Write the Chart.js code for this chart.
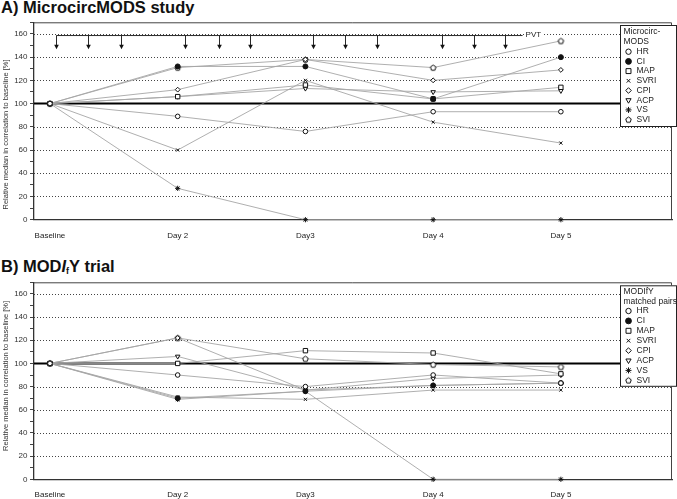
<!DOCTYPE html>
<html>
<head>
<meta charset="utf-8">
<script src="https://cdn.jsdelivr.net/npm/chart.js@4"></script>
<style>
  html, body { margin: 0; padding: 0; background: #fff; }
  body { width: 677px; height: 499px; position: relative; overflow: hidden; font-family: "Liberation Sans", Arial, sans-serif; }
  .title { position: absolute; left: 1px; font-weight: bold; font-size: 16.5px; line-height: 16.5px; color: #111; white-space: nowrap; }
  .title sub { font-size: 9px; vertical-align: -2px; line-height: 0; }
  canvas { position: absolute; left: 0; }
</style>
</head>
<body>
<div class="title" style="top:-1px">A) MicrocircMODS study</div>
<div class="title" style="top:258px">B) MOD<i>I</i><sub>f</sub>Y trial</div>
<canvas id="chartA" width="677" height="240" style="top:0"></canvas>
<canvas id="chartB" width="677" height="259" style="top:240px"></canvas>
<script>
const days = ['Baseline', 'Day 2', 'Day3', 'Day 4', 'Day 5'];
const seriesNames = ['HR', 'CI', 'MAP', 'SVRI', 'CPI', 'ACP', 'VS', 'SVI'];
const yTicks = [0, 20, 40, 60, 80, 100, 120, 140, 160];

// A) MicrocircMODS study
const microHR = [100, 89, 76, 93, 93];
const microCI = [100, 132, 132, 104, 140];
const microMAP = [100, 106, 116, 104, 114];
const microSVRI = [100, 60, 120, 84, 66];
const microCPI = [100, 112, 138, 120, 129];
const microACP = [100, 106, 113, 110, 111];
const microVS = [100, 27, 0, 0, 0];
const microSVI = [100, 131, 138, 131, 154];

// PVT doses (day position of each arrow) and level of the bracket line
const pvtDoses = [0.05, 0.3, 0.56, 1.06, 1.32, 1.57, 2.06, 2.31, 2.56, 3.07, 3.32, 3.56];
const pvtEnd = 3.70;
const pvtLevel = 158.6;
const pvtTip = 146.7;

// B) MODIfY trial, matched pairs
const modifyHR = [100, 90, 80, 90, 83];
const modifyCI = [100, 70, 76, 81, 83];
const modifyMAP = [100, 100, 111, 109, 91];
const modifySVRI = [100, 71, 69, 77, 77];
const modifyCPI = [100, 122, 77, 81, 83];
const modifyACP = [100, 106, 77, 87, 90];
const modifyVS = [100, 69, 76, 0, 0];
const modifySVI = [100, 122, 104, 99, 97];

const FONT = '"Liberation Sans", Arial, sans-serif';

// pentagon marker for SVI (chart.js has no pentagon)
function makePentagon() {
  const c = document.createElement('canvas');
  c.width = 9; c.height = 9;
  const g = c.getContext('2d');
  g.beginPath();
  for (let i = 0; i < 5; i++) {
    const a = -Math.PI / 2 + i * 2 * Math.PI / 5;
    const px = 4.5 + 2.9 * Math.cos(a), py = 4.8 + 2.9 * Math.sin(a);
    if (i === 0) g.moveTo(px, py); else g.lineTo(px, py);
  }
  g.closePath();
  g.fillStyle = '#fff';
  g.fill();
  g.lineWidth = 1;
  g.strokeStyle = '#111';
  g.stroke();
  return c;
}
const pentagon = makePentagon();

const markers = {
  HR:   { pointStyle: 'circle', radius: 2.3, fill: '#fff', rotation: 0 },
  CI:   { pointStyle: 'circle', radius: 2.5, fill: '#111', rotation: 0 },
  MAP:  { pointStyle: 'rect', radius: 3.1, fill: '#fff', rotation: 0 },
  SVRI: { pointStyle: 'crossRot', radius: 2.2, fill: '#fff', rotation: 0 },
  CPI:  { pointStyle: 'rectRot', radius: 2.4, fill: '#fff', rotation: 0 },
  ACP:  { pointStyle: 'triangle', radius: 2.6, fill: '#fff', rotation: 180 },
  VS:   { pointStyle: 'star', radius: 2.6, fill: '#fff', rotation: 0 },
  SVI:  { pointStyle: pentagon, radius: 3, fill: '#fff', rotation: 0 }
};

function toPoints(values) {
  return values.map((v, i) => ({ x: i, y: v }));
}

function buildDatasets(valueLists) {
  return seriesNames.map((name, k) => {
    const m = markers[name];
    return {
      label: name,
      data: toPoints(valueLists[k]),
      borderColor: '#a6a6a6',
      borderWidth: 0.9,
      pointStyle: m.pointStyle,
      pointRotation: m.rotation,
      pointRadius: m.radius,
      pointBorderWidth: 1,
      pointBorderColor: '#111',
      pointBackgroundColor: m.fill,
      clip: false
    };
  });
}

// grid, baseline line at 100, box, y title
const framePlugin = {
  id: 'frame',
  beforeDatasetsDraw(chart, args, opts) {
    const { ctx, chartArea: a, scales: { y } } = chart;
    ctx.save();
    ctx.strokeStyle = '#444';
    ctx.lineWidth = 1;
    ctx.setLineDash([1, 2]);
    yTicks.forEach(v => {
      if (v === 0 || v === 100) return;
      const py = Math.round(y.getPixelForValue(v)) + 0.5;
      ctx.beginPath();
      ctx.moveTo(a.left, py);
      ctx.lineTo(a.right, py);
      ctx.stroke();
    });
    ctx.setLineDash([]);
    const p100 = y.getPixelForValue(100);
    ctx.strokeStyle = '#000';
    ctx.lineWidth = 2;
    ctx.beginPath();
    ctx.moveTo(a.left, p100);
    ctx.lineTo(a.right, p100);
    ctx.stroke();
    // top and right of the box
    ctx.strokeStyle = '#444';
    ctx.lineWidth = 1;
    ctx.beginPath();
    ctx.moveTo(a.left, a.top + 0.5);
    ctx.lineTo(a.right - 0.5, a.top + 0.5);
    ctx.lineTo(a.right - 0.5, a.bottom);
    ctx.stroke();
    // y axis title
    ctx.fillStyle = '#333';
    ctx.font = '7.5px ' + FONT;
    ctx.textAlign = 'center';
    ctx.textBaseline = 'middle';
    ctx.translate(5.7, opts.titleY);
    ctx.rotate(-Math.PI / 2);
    ctx.fillText('Relative median in correlation to baseline [%]', 0, 0);
    ctx.restore();
  }
};

// PVT arrows (panel A only)
const pvtPlugin = {
  id: 'pvt',
  afterDatasetsDraw(chart, args, opts) {
    if (!opts.show) return;
    const { ctx, scales: { x, y } } = chart;
    const top = y.getPixelForValue(pvtLevel);
    const tip = y.getPixelForValue(pvtTip);
    ctx.save();
    ctx.strokeStyle = '#111';
    ctx.fillStyle = '#111';
    ctx.lineWidth = 0.9;
    ctx.beginPath();
    ctx.moveTo(x.getPixelForValue(pvtDoses[0]), top);
    ctx.lineTo(x.getPixelForValue(pvtEnd), top);
    ctx.stroke();
    pvtDoses.forEach(d => {
      const px = Math.round(x.getPixelForValue(d)) + 0.5;
      ctx.beginPath();
      ctx.moveTo(px, top);
      ctx.lineTo(px, tip - 3);
      ctx.stroke();
      ctx.beginPath();
      ctx.moveTo(px - 2.3, tip - 4.5);
      ctx.lineTo(px + 2.3, tip - 4.5);
      ctx.lineTo(px, tip);
      ctx.closePath();
      ctx.fill();
    });
    const lx = x.getPixelForValue(pvtEnd);
    ctx.fillStyle = '#fff';
    ctx.fillRect(lx + 2, top - 5, 18, 8);
    ctx.fillStyle = '#222';
    ctx.font = '8px ' + FONT;
    ctx.textAlign = 'left';
    ctx.textBaseline = 'middle';
    ctx.fillText('PVT', lx + 3, top - 1);
    ctx.restore();
  }
};

// boxed legend inside the plot
const boxLegendPlugin = {
  id: 'boxLegend',
  afterDraw(chart, args, opts) {
    const { ctx } = chart;
    ctx.save();
    ctx.fillStyle = '#fff';
    ctx.fillRect(opts.x, opts.y, opts.w, opts.h);
    ctx.strokeStyle = '#222';
    ctx.lineWidth = 1;
    ctx.strokeRect(opts.x + 0.5, opts.y + 0.5, opts.w - 1, opts.h - 1);
    ctx.font = '8.5px ' + FONT;
    ctx.textBaseline = 'middle';
    ctx.textAlign = 'left';
    ctx.fillStyle = '#222';
    opts.title.forEach((t, i) => ctx.fillText(t, opts.x + 3.5, opts.titleY + i * opts.step));
    const helpers = Chart.helpers;
    seriesNames.forEach((name, i) => {
      const cy = opts.firstY + i * opts.step;
      const m = markers[name];
      ctx.fillStyle = m.fill;
      ctx.strokeStyle = '#111';
      ctx.lineWidth = 1;
      if (helpers && helpers.drawPoint) {
        helpers.drawPoint(ctx, { pointStyle: m.pointStyle, rotation: m.rotation, radius: m.radius + 0.4, borderWidth: 1 }, opts.x + 8.5, cy);
      }
      ctx.fillStyle = '#222';
      ctx.fillText(name, opts.x + 16.5, cy);
    });
    ctx.restore();
  }
};

function makeChart(canvasId, valueLists, padTop, axisHeight, extra) {
  return new Chart(document.getElementById(canvasId), {
    type: 'line',
    data: { datasets: buildDatasets(valueLists) },
    plugins: [framePlugin, pvtPlugin, boxLegendPlugin],
    options: {
      responsive: false,
      animation: false,
      devicePixelRatio: 1,
      layout: { padding: { top: padTop, right: 1, left: 0, bottom: 0 } },
      scales: {
        x: {
          type: 'linear',
          min: -0.125,
          max: 4.87,
          afterBuildTicks: s => { s.ticks = days.map((d, i) => ({ value: i })); },
          afterFit: s => { s.height = axisHeight; },
          grid: { display: false, drawTicks: false },
          border: { color: '#333', width: 1.3 },
          ticks: {
            padding: 11,
            autoSkip: false,
            maxRotation: 0,
            color: '#222',
            font: { family: FONT, size: 8 },
            callback: v => days[v]
          }
        },
        y: {
          min: 0,
          max: 170,
          afterFit: s => { s.width = 34; },
          grid: { drawOnChartArea: false, tickLength: 4, tickColor: '#444', tickWidth: 1 },
          border: { color: '#333', width: 1.3 },
          ticks: {
            stepSize: 10,
            autoSkip: false,
            padding: 2.5,
            color: '#333',
            font: { family: FONT, size: 8 },
            callback: v => (yTicks.includes(v) ? v : '')
          }
        }
      },
      plugins: Object.assign({
        legend: { display: false },
        tooltip: { enabled: false }
      }, extra)
    }
  });
}

makeChart('chartA',
  [microHR, microCI, microMAP, microSVRI, microCPI, microACP, microVS, microSVI],
  22.3, 20.3, {
    frame: { titleY: 134.5 },
    pvt: { show: true },
    boxLegend: { x: 620, y: 25, w: 57, h: 102, title: ['Microcirc-', 'MODS'], titleY: 32, firstY: 51.7, step: 9.7 }
  });

makeChart('chartB',
  [modifyHR, modifyCI, modifyMAP, modifySVRI, modifyCPI, modifyACP, modifyVS, modifySVI],
  42.3, 19.7, {
    frame: { titleY: 136 },
    pvt: { show: false },
    boxLegend: { x: 620, y: 45.3, w: 57, h: 101.5, title: ['MODIfY', 'matched pairs'], titleY: 51.7, firstY: 71, step: 9.9 }
  });
</script>
</body>
</html>
